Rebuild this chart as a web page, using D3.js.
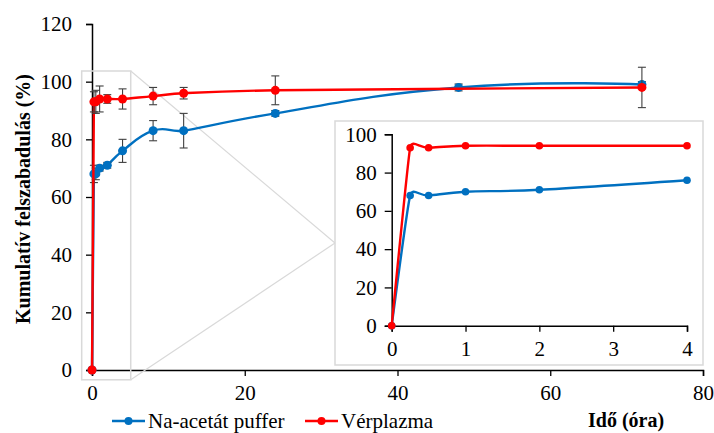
<!DOCTYPE html>
<html>
<head>
<meta charset="utf-8">
<script src="https://cdn.jsdelivr.net/npm/d3@7"></script>
</head>
<body style="margin:0">
<svg id="chart" width="714" height="433">
<text x="588" y="427" style="font-family:'Liberation Serif';font-size:20px;font-weight:bold">Idő (óra)</text>
<text transform="translate(30,199) rotate(-90)" text-anchor="middle" style="font-family:'Liberation Serif';font-size:20px;font-weight:bold">Kumulatív felszabadulás (%)</text>
</svg>
<script>
// time points (hours)
const times = [0, 0.25, 0.5, 1, 2, 4, 8, 12, 24, 48, 72];
// Na-acetát puffer
const bufferVals = [0, 68, 68, 70, 71, 76, 83, 83, 89, 98, 99];
const bufferErr  = [0, 3, 2, 1, 1, 4, 3.5, 6, 1, 1.2, 1];
// Vérplazma (no 48 h point)
const plasmaTimes = [0, 0.25, 0.5, 1, 2, 4, 8, 12, 24, 72];
const plasmaVals  = [0, 93, 93, 94, 94, 94, 95, 96, 97, 98];
const plasmaErr   = [0, 3.5, 4, 4.5, 1.5, 3.5, 3, 2, 5, 7];

const xTicks = [0, 20, 40, 60, 80];
const yTicks = [0, 20, 40, 60, 80, 100, 120];
const insetXTicks = [0, 1, 2, 3, 4];
const insetYTicks = [0, 20, 40, 60, 80, 100];

const blue = "#0070C0", red = "#FF0000";
const fontStyle = "font-family:'Liberation Serif';font-size:21px";

const series = [
  { name: "Na-acetát puffer", color: blue,
    pts: times.map((t, i) => ({ t, v: bufferVals[i], e: bufferErr[i] })) },
  { name: "Vérplazma", color: red,
    pts: plasmaTimes.map((t, i) => ({ t, v: plasmaVals[i], e: plasmaErr[i] })) }
];

const svg = d3.select("#chart");

const x = d3.scaleLinear().domain([0, 80]).range([92, 703]);
const y = d3.scaleLinear().domain([0, 120]).range([370, 24]);

function styleAxis(g) {
  g.attr("font-family", null).attr("font-size", null);
  g.select(".domain").attr("stroke", "#000").attr("stroke-width", 1.5);
  g.selectAll(".tick line").attr("stroke", "#000").attr("stroke-width", 1.3);
  g.selectAll(".tick text").attr("style", fontStyle);
}

// main axes
const gx = svg.append("g").attr("transform", `translate(0,${y(0)})`)
  .call(d3.axisBottom(x).tickValues(xTicks).tickSize(6).tickPadding(9));
const gy = svg.append("g").attr("transform", `translate(${x(0)},0)`)
  .call(d3.axisLeft(y).tickValues(yTicks).tickSize(6).tickPadding(14));
styleAxis(gx); styleAxis(gy);

// zoom indicator box + lines
const bx0 = x(-1.35), bx1 = x(5.07), by0 = y(103.7), by1 = y(-3.4);
svg.append("rect")
  .attr("x", bx0).attr("y", by0).attr("width", bx1 - bx0).attr("height", by1 - by0)
  .attr("fill", "none").attr("stroke", "#d9d9d9").attr("stroke-width", 1.5);
const apex = [335, 243];
svg.append("line").attr("x1", bx1).attr("y1", by0).attr("x2", apex[0]).attr("y2", apex[1])
  .attr("stroke", "#d9d9d9").attr("stroke-width", 1.2);
svg.append("line").attr("x1", bx1).attr("y1", by1).attr("x2", apex[0]).attr("y2", apex[1])
  .attr("stroke", "#d9d9d9").attr("stroke-width", 1.2);

// Excel-like smoothing: tangent along neighbours, handle length from the shorter side
function smoothPath(p, s = 0.5) {
  const n = p.length;
  const seg = [];
  for (let i = 0; i < n - 1; i++) seg.push(Math.hypot(p[i + 1][0] - p[i][0], p[i + 1][1] - p[i][1]));
  const tan = p.map((pt, i) => {
    const a = p[Math.max(i - 1, 0)], b = p[Math.min(i + 1, n - 1)];
    const dx = b[0] - a[0], dy = b[1] - a[1], l = Math.hypot(dx, dy) || 1;
    return [dx / l, dy / l];
  });
  const h = p.map((pt, i) => (i === 0 || i === n - 1) ? 0 : s * Math.min(seg[i - 1], seg[i]));
  let d = `M${p[0][0]},${p[0][1]}`;
  for (let i = 0; i < n - 1; i++) {
    const a = p[i], b = p[i + 1];
    d += `C${a[0] + tan[i][0] * h[i]},${a[1] + tan[i][1] * h[i]} ` +
         `${b[0] - tan[i + 1][0] * h[i + 1]},${b[1] - tan[i + 1][1] * h[i + 1]} ${b[0]},${b[1]}`;
  }
  return d;
}

function drawSeries(g, xs, ys, s, r, withErr) {
  g.append("path").attr("d", smoothPath(s.pts.map(d => [xs(d.t), ys(d.v)])))
    .attr("fill", "none").attr("stroke", s.color).attr("stroke-width", 2.4);
  if (withErr) {
    const eb = g.selectAll(null).data(s.pts.filter(d => d.e > 0)).join("g")
      .attr("stroke", "#404040").attr("stroke-width", 1.1);
    eb.append("line").attr("x1", d => xs(d.t)).attr("x2", d => xs(d.t))
      .attr("y1", d => ys(d.v - d.e)).attr("y2", d => ys(d.v + d.e));
    eb.append("line").attr("x1", d => xs(d.t) - 4).attr("x2", d => xs(d.t) + 4)
      .attr("y1", d => ys(d.v - d.e)).attr("y2", d => ys(d.v - d.e));
    eb.append("line").attr("x1", d => xs(d.t) - 4).attr("x2", d => xs(d.t) + 4)
      .attr("y1", d => ys(d.v + d.e)).attr("y2", d => ys(d.v + d.e));
  }
  g.selectAll(null).data(s.pts).join("circle")
    .attr("cx", d => xs(d.t)).attr("cy", d => ys(d.v)).attr("r", r)
    .attr("fill", s.color);
}

const mainG = svg.append("g");
series.forEach(s => drawSeries(mainG, x, y, s, 4.5, true));

// inset
svg.append("rect").attr("x", 335).attr("y", 121).attr("width", 368).attr("height", 244)
  .attr("fill", "#fff").attr("stroke", "#d9d9d9").attr("stroke-width", 1.5);

const ix = d3.scaleLinear().domain([0, 4]).range([391.7, 687]);
const iy = d3.scaleLinear().domain([0, 100]).range([325.7, 134.3]);
const igx = svg.append("g").attr("transform", `translate(0,${iy(0)})`)
  .call(d3.axisBottom(ix).tickValues(insetXTicks).tickFormat(d3.format("d")).tickSize(6).tickPadding(9));
const igy = svg.append("g").attr("transform", `translate(${ix(0)},0)`)
  .call(d3.axisLeft(iy).tickValues(insetYTicks).tickSize(7).tickPadding(8));
styleAxis(igx); styleAxis(igy);

const insetG = svg.append("g");
series.forEach(s => drawSeries(insetG, ix, iy,
  { color: s.color, pts: s.pts.filter(d => d.t <= 4) }, 3.8, false));

// legend
const legend = [
  { name: series[0].name, color: blue, x0: 112, tx: 148 },
  { name: series[1].name, color: red, x0: 305, tx: 341 }
];
legend.forEach(l => {
  svg.append("line").attr("x1", l.x0).attr("x2", l.x0 + 33).attr("y1", 421).attr("y2", 421)
    .attr("stroke", l.color).attr("stroke-width", 2.4);
  svg.append("circle").attr("cx", l.x0 + 16.5).attr("cy", 421).attr("r", 4).attr("fill", l.color);
  svg.append("text").attr("x", l.tx).attr("y", 428).attr("style", fontStyle).text(l.name);
});
</script>
</body>
</html>
